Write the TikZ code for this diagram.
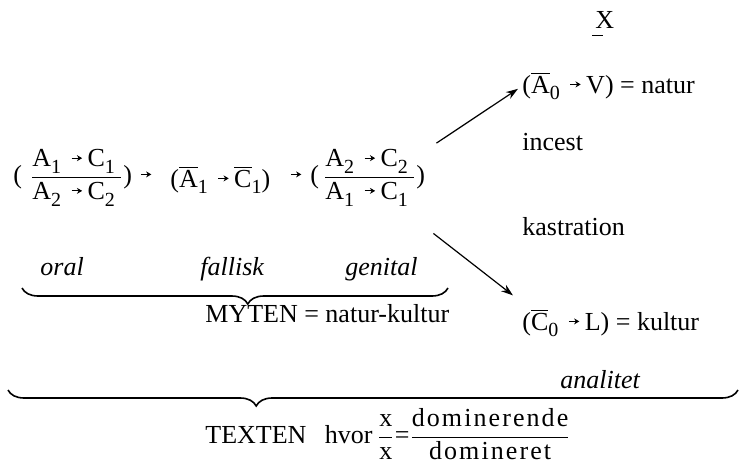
\documentclass[tikz,border=0pt]{standalone}
\usepackage{fontspec}
\setmainfont{Liberation Serif}
\usetikzlibrary{arrows.meta, decorations.pathreplacing}

\newcommand{\bodyfont}{\fontsize{13}{15}\selectfont}
\newcommand{\lowsub}[1]{\raisebox{-3.3pt}{\fontsize{10}{11}\selectfont #1}}
\newcommand{\tinyarrow}{\tikz[baseline=0pt]\draw[line width=.5pt,-{Stealth[length=2.6pt,width=3pt]}] (0pt,4.3pt) -- (5.2pt,4.3pt);}
\newcommand{\ovl}[1]{$\overline{\mbox{#1}}$}
\newcommand{\pair}[4]{#1\lowsub{#2}\hspace{5pt}\tinyarrow\hspace{2.5pt}#3\lowsub{#4}}
\newcommand{\stage}[3]{(\hspace{#1}$\displaystyle\frac{\mbox{#2}}{\mbox{#3}}$)}

\begin{document}
\begin{tikzpicture}[x=0.5pt, y=-0.5pt,
    txt/.style={inner sep=0pt, anchor=base west, font=\bodyfont},
    lab/.style={txt, font=\bodyfont\itshape},
    line/.style={-{Stealth[length=6pt, width=4pt]}, semithick},
    brc/.style={decorate, thick, decoration={brace, mirror, amplitude=8pt, aspect=#1}}]
  \useasboundingbox (0,0) rectangle (740,466);

  % the three stages of the myth
  \node[txt] (oralf) at (13,183) {\stage{4pt}{\pair{A}{1}{C}{1}\hspace{3pt}}{\pair{A}{2}{C}{2}\hspace{3pt}}};
  \node[txt] (to1)   at (140,183) {\tinyarrow};
  \node[txt] (fallf) at (170,187) {(\pair{\ovl{A}}{1}{\ovl{C}}{1})};
  \node[txt] (to2)   at (290,183) {\tinyarrow};
  \node[txt] (genf)  at (310,183) {\stage{2pt}{\pair{A}{2}{C}{2}\hspace{3pt}}{\pair{A}{1}{C}{1}\hspace{3pt}}};

  \node[lab] (oral)    at (40,275)  {oral};
  \node[lab] (fallisk) at (200,275) {fallisk};
  \node[lab] (genital) at (345,275) {genital};

  % right column
  \node[txt] (xmark)  at (595,28)  {X};
  \draw[thin] ([shift={(-1.5pt,-3.5pt)}]xmark.base west) -- ++(11,0);
  \node[txt] (natur)  at (522,93)  {(\pair{\ovl{A}}{0}{V}{}) = natur};
  \node[txt] (incest) at (522,150) {incest};
  \node[txt] (kastr)  at (522,235) {kastration};
  \node[txt] (kultur) at (522,330) {(\pair{\ovl{C}}{0}{L}{}) = kultur};
  \node[lab] (analit) at (560,388) {analitet};

  \draw[line] ([shift={(5.5pt,3pt)}]genf.north east) -- ([shift={(-2pt,-1.5pt)}]natur.west);
  \draw[line] ([shift={(4pt,-13.5pt)}]genf.south east) -- ([shift={(-4.5pt,6.5pt)}]kultur.north west);

  % braces
  \coordinate (mythL) at (22,288);
  \coordinate (mythR) at (448,288);
  \draw[brc=0.53] (mythL) -- (mythR);
  \node[txt] (myten) at (205,322) {MYTEN = natur-kultur};

  \coordinate (textL) at (8,390);
  \coordinate (textR) at (738,390);
  \draw[brc=0.34] (textL) -- (textR);
  \node[txt] (texten) at (205,443) {TEXTEN\hspace{6pt} hvor\,$\displaystyle\frac{\mbox{x}}{\mbox{x}}\mbox{=}\frac{\mbox{\addfontfeature{LetterSpace=8}dominerende}}{\mbox{\addfontfeature{LetterSpace=8}domineret}}$};
\end{tikzpicture}
\end{document}
